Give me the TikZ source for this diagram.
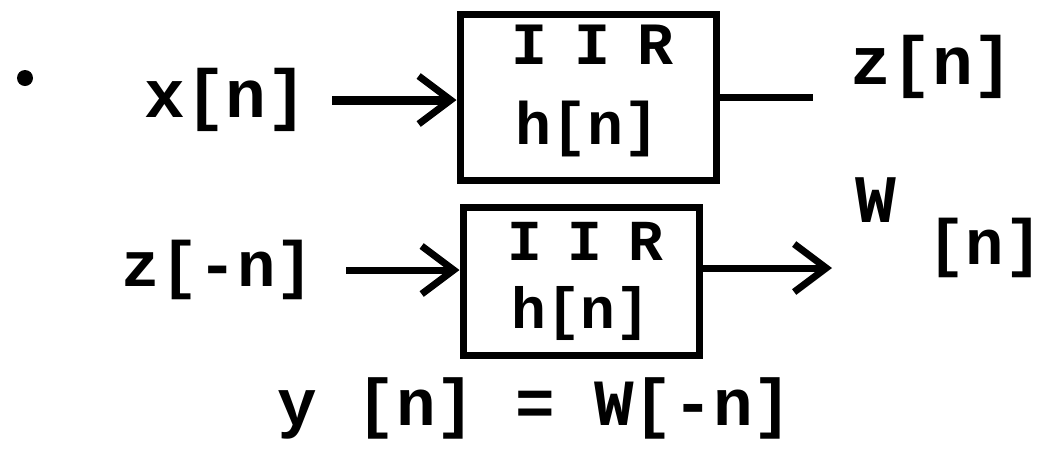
\documentclass[tikz,border=0pt]{standalone}
\usepackage{fontspec}
\usetikzlibrary{arrows.meta}
\newfontfamily\hand{Liberation Mono Bold}
\newfontfamily\handsp{Liberation Mono Bold}[LetterSpace=45]
\newcommand{\iirtext}{{\handsp\kern0.15em IIR}}
\begin{document}
\begin{tikzpicture}[x=0.5pt,y=-0.5pt,
  lbl/.style={font=\hand\fontsize{32}{36}\selectfont, inner sep=2pt},
  big/.style={lbl, font=\hand\fontsize{34}{38}\selectfont},
  blk/.style={draw, line width=3.5pt, align=center, inner sep=0pt},
  wire/.style={line width=3.5pt},
  arr/.style={wire, -{Straight Barb[length=16pt,width=24pt,line width=3.5pt]}},
]
\useasboundingbox (0,0) rectangle (1042,468);
\node[circle, fill, minimum size=8pt, inner sep=0pt] (dot) at (25,78) {};
% top row
\node[big] (xn) at (226,100) {x[n]};
\node[blk, minimum width=128pt, minimum height=83pt, text depth=12pt, font=\hand\fontsize{30}{40}\selectfont] (box1) at (588,97) {\iirtext\\h[n]};
\coordinate (zend) at (813,97);
\node[big] (zn) at (932,67) {z[n]};
\draw[arr, line width=4.5pt, shorten <=10pt] (xn.east) -- (box1.west |- xn.east);
\draw[wire] (box1.east |- zend) -- (zend);
% bottom row
\node[lbl] (zneg) at (218,270) {z[-n]};
\node[blk, minimum width=118pt, minimum height=74pt, font=\hand\fontsize{29}{34}\selectfont] (box2) at (581,281) {\iirtext\\h[n]};
\coordinate (wend) at (832,268);
\draw[arr, shorten <=14pt] (zneg.east) -- (box2.west |- zneg.east);
\draw[arr] (box2.east |- wend) -- (wend);
\node[big] (w) at (876,200) {W};
\node[lbl] (wn) at (985,248) {[n]};
% relation
\node[lbl, font=\hand\fontsize{33}{36}\selectfont] (rel) at (535,408) {y [n] = W[-n]};
\end{tikzpicture}
\end{document}
